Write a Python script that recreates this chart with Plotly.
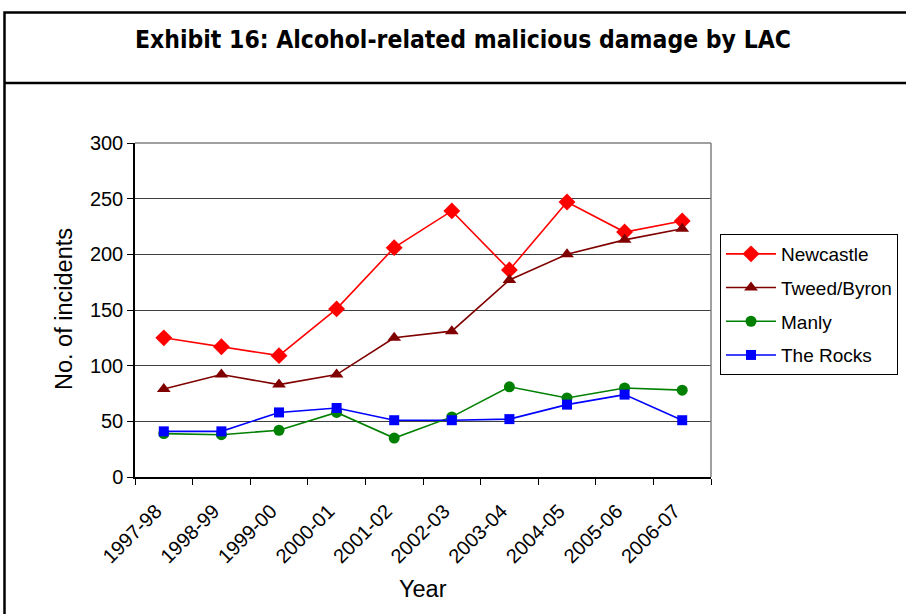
import plotly.graph_objects as go

# Financial years and incident counts per Local Area Command
years = ["1997-98", "1998-99", "1999-00", "2000-01", "2001-02",
         "2002-03", "2003-04", "2004-05", "2005-06", "2006-07"]
newcastle = [125, 117, 109, 151, 206, 239, 186, 247, 220, 230]
tweed_byron = [79, 92, 83, 92, 125, 131, 177, 200, 213, 223]
manly = [39, 38, 42, 58, 35, 54, 81, 71, 80, 78]
the_rocks = [41, 41, 58, 62, 51, 51, 52, 65, 74, 51]

y_ticks = [0, 50, 100, 150, 200, 250, 300]

series = [
    ("Newcastle", newcastle, "#FF0000", "diamond", 13),
    ("Tweed/Byron", tweed_byron, "#800000", "triangle-up", 12),
    ("Manly", manly, "#008000", "circle", 11),
    ("The Rocks", the_rocks, "#0000FF", "square", 10),
]

fig = go.Figure()
for i, (name, vals, color, symbol, size) in enumerate(series):
    fig.add_trace(go.Scatter(
        x=years, y=vals, name=name, mode="lines+markers",
        line=dict(color=color, width=1.6),
        marker=dict(symbol=symbol, size=size, color=color),
        legendgroup=f"g{i}",
    ))

W, H = 906, 614
L, R, T, B = 135, 195, 143, 137
pw, ph = W - L - R, H - T - B


def px_x(px):
    return (px - L) / pw


def px_y(py):
    return (H - B - py) / ph


shapes = [
    # outer frame
    dict(type="rect", xref="paper", yref="paper",
         x0=px_x(4.5), x1=px_x(910), y0=px_y(620), y1=px_y(12.5),
         line=dict(color="black", width=2.5), layer="below"),
    # rule under the heading
    dict(type="line", xref="paper", yref="paper",
         x0=px_x(4.5), x1=px_x(910), y0=px_y(83), y1=px_y(83),
         line=dict(color="black", width=2.5)),
    # plot area border (top and right)
    dict(type="line", xref="paper", yref="paper",
         x0=0, x1=1, y0=1, y1=1, line=dict(color="#808080", width=1.5)),
    dict(type="line", xref="paper", yref="paper",
         x0=1, x1=1, y0=0, y1=1, line=dict(color="#808080", width=1.5)),
]

fig.update_layout(
    width=W, height=H,
    margin=dict(l=L, r=R, t=T, b=B, autoexpand=False),
    paper_bgcolor="white", plot_bgcolor="white",
    font=dict(family="Liberation Sans, Arial, sans-serif", color="black"),
    showlegend=True,
    legend=dict(
        x=px_x(720), y=px_y(234), xanchor="left", yanchor="top",
        bordercolor="black", borderwidth=1,
        font=dict(size=19), traceorder="grouped", tracegroupgap=6,
        itemwidth=50,
    ),
    shapes=shapes,
    annotations=[
        dict(
            text="<b>Exhibit 16: Alcohol-related malicious damage by LAC</b>",
            xref="paper", yref="paper", x=px_x(463), y=px_y(40),
            xanchor="center", yanchor="middle", showarrow=False,
            font=dict(size=24.5, family="DejaVu Sans Condensed, DejaVu Sans, sans-serif"),
        ),
        dict(
            text="Year", xref="paper", yref="paper",
            x=px_x(423), y=px_y(589), xanchor="center", yanchor="middle",
            showarrow=False, font=dict(size=23.5),
        ),
        dict(
            text="No. of incidents", xref="paper", yref="paper",
            x=px_x(64), y=px_y(309), xanchor="center", yanchor="middle",
            showarrow=False, textangle=-90, font=dict(size=23.5),
        ),
    ],
)

fig.update_xaxes(
    type="category", range=[-0.5, 9.5],
    tickmode="array", tickvals=years,
    ticktext=[y + "\u00a0\u00a0" for y in years],
    showline=True, linecolor="black", linewidth=1.5,
    ticks="outside", ticklen=6, tickcolor="black", tickson="boundaries",
    tickangle=-45, tickfont=dict(size=20), ticklabelstandoff=5,
    showgrid=False,
)
fig.update_yaxes(
    range=[0, 300], tickvals=y_ticks,
    showline=True, linecolor="black", linewidth=1.5,
    ticks="outside", ticklen=6, tickcolor="black",
    tickfont=dict(size=20),
    showgrid=True, gridcolor="#404040", gridwidth=1,
    zeroline=False,
)

fig.write_html("out.html")
